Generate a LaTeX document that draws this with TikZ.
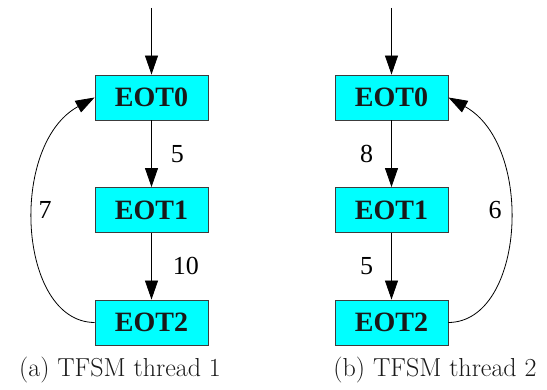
\documentclass[tikz,border=0pt]{standalone}
\usepackage{fontspec}
\setmainfont{Latin Modern Roman}
\newfontfamily\timesfont{Liberation Serif}
\usetikzlibrary{arrows.meta}

\definecolor{stateblue}{RGB}{0,255,255}
\definecolor{stateline}{RGB}{60,60,60}

\tikzset{
  state/.style={draw=stateline, fill=stateblue, line width=0.9pt,
    minimum width=113pt, minimum height=45pt, inner sep=0pt,
    font=\timesfont\fontsize{28}{30}\selectfont\bfseries, text=black!90},
  trans/.style={line width=0.8pt, -{Triangle[length=19pt, width=13pt]}},
  weight/.style={font=\timesfont\fontsize{26}{28}\selectfont, inner sep=0pt},
  subcap/.style={font=\fontsize{26}{30}\selectfont, text=black!90}
}

\begin{document}
\begin{tikzpicture}[x=1pt,y=-1pt]
\useasboundingbox (0,0) rectangle (547,390);

% thread 1
\coordinate (a) at (151.5,8);
\node[state] (a0) at (151.5,97.5) {EOT0};
\node[state] (a1) at (151.5,210) {EOT1};
\node[state] (a2) at (151.5,322.5) {EOT2};
\draw[trans] (a) -- (a0);
\draw[trans] (a0) -- node[weight, right=19pt] (w05) {5} (a1);
\draw[trans] (a1) -- node[weight, right=21pt] (w10) {10} (a2);
\draw[trans] (a2.west) .. controls (18,322) and (8,145) .. (a0.west);
\node[weight] (w7) at (45,210) {7};
\node[subcap] (capa) at (120,370) {(a) TFSM thread 1};

% thread 2
\coordinate (b) at (391.5,8);
\node[state] (b0) at (391.5,97.5) {EOT0};
\node[state] (b1) at (391.5,210) {EOT1};
\node[state] (b2) at (391.5,322.5) {EOT2};
\draw[trans] (b) -- (b0);
\draw[trans] (b0) -- node[weight, left=18pt] (w08) {8} (b1);
\draw[trans] (b1) -- node[weight, left=18pt] (w05b) {5} (b2);
\draw[trans] (b2.east) .. controls (525,322) and (535,145) .. (b0.east);
\node[weight] (w6) at (495,210) {6};
\node[subcap] (capb) at (435,370) {(b) TFSM thread 2};
\end{tikzpicture}
\end{document}
